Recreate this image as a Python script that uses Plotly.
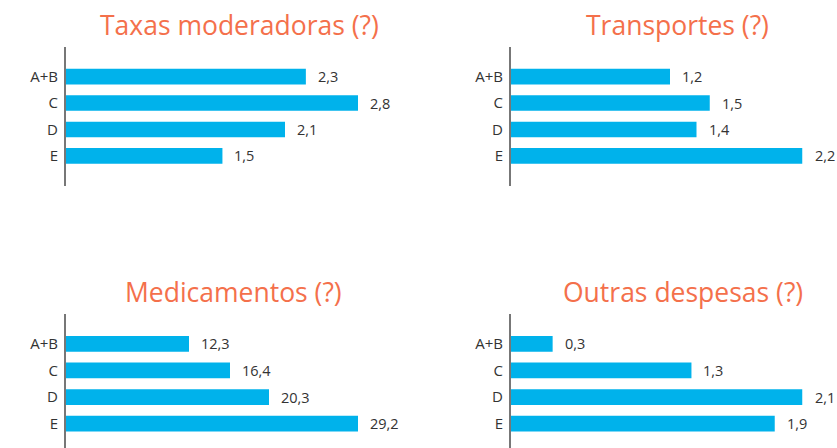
import plotly.graph_objects as go

categories = ["A+B", "C", "D", "E"]
titles = ["Taxas moderadoras (?)", "Transportes (?)", "Medicamentos (?)", "Outras despesas (?)"]
taxas = [2.3, 2.8, 2.1, 1.5]
transportes = [1.2, 1.5, 1.4, 2.2]
medicamentos = [12.3, 16.4, 20.3, 29.2]
outras = [0.3, 1.3, 2.1, 1.9]

W, H = 837, 448
BAR = "#00B2EB"
TITLE_C = "#F4704B"
TXT = "#333333"
FONT = "Open Sans"

series = [taxas, transportes, medicamentos, outras]
# pixel layout: (x0, x1, ytop, ybottom, yrange, title_cx, title_cy)
panels = [
    (66, 358, 46.5, 186, [4.14, -1.14], 239, 25),
    (511, 802.5, 46.5, 186, [4.14, -1.14], 677, 25),
    (66, 358, 313.8, 448, [3.914, -1.13], 234, 292),
    (511, 802.5, 313.8, 448, [3.914, -1.13], 683, 292),
]

fig = go.Figure()
annotations = []
for i, (vals, p, title) in enumerate(zip(series, panels, titles)):
    x0, x1, yt, yb, yr, tcx, tcy = p
    n = "" if i == 0 else str(i + 1)
    xa, ya = "x" + n, "y" + n
    fig.add_trace(go.Bar(
        x=vals, y=categories, orientation="h", marker_color=BAR,
        marker_line_width=0, width=0.59, xaxis=xa, yaxis=ya,
        showlegend=False, hoverinfo="x+y", cliponaxis=False,
    ))
    fig.update_layout(**{
        ("xaxis" + n): dict(domain=[x0 / W, x1 / W], range=[0, max(vals)],
                            visible=False, anchor=ya, fixedrange=True),
        ("yaxis" + n): dict(domain=[1 - yb / H, 1 - yt / H], range=yr,
                            type="category", anchor=xa, showline=True,
                            linecolor="#777777", linewidth=2, showgrid=False,
                            zeroline=False, ticks="", ticklabelstandoff=3,
                            tickfont=dict(family=FONT, size=15, color=TXT),
                            fixedrange=True),
    })
    for c, v in zip(categories, vals):
        annotations.append(dict(
            x=v, y=c, xref=xa, yref=ya, text=f"{v:.1f}".replace(".", ","),
            showarrow=False, xanchor="left", yanchor="middle", xshift=10,
            font=dict(family=FONT, size=14.5, color=TXT),
        ))
    annotations.append(dict(
        x=tcx / W, y=1 - tcy / H, xref="paper", yref="paper", text=title,
        showarrow=False, xanchor="center", yanchor="middle",
        font=dict(family=FONT, size=26.5, color=TITLE_C),
    ))

fig.update_layout(
    width=W, height=H, margin=dict(l=0, r=0, t=0, b=0),
    paper_bgcolor="white", plot_bgcolor="white",
    annotations=annotations, bargap=0.4,
)
fig.write_html("out.html", config={"displayModeBar": False},
               post_script="document.body.style.margin='0';")
